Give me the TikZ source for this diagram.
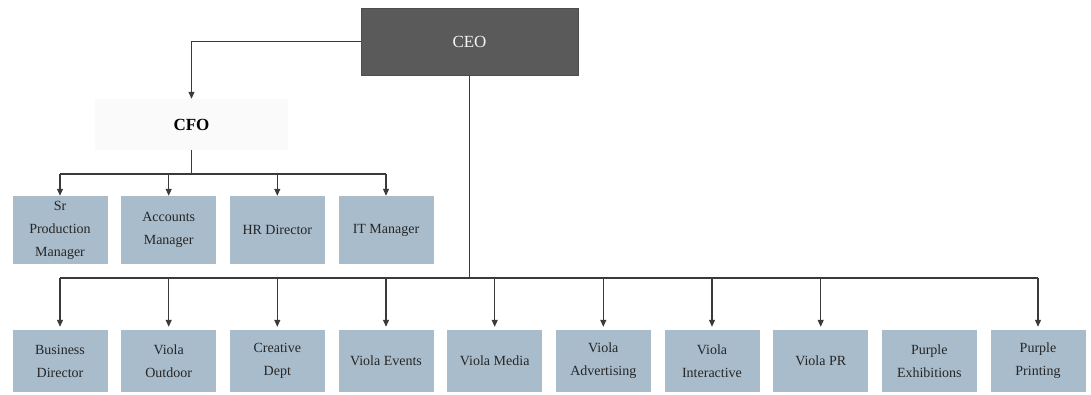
\documentclass[tikz,border=0pt]{standalone}
\usepackage{fontspec}
\setmainfont{Liberation Serif}
\usetikzlibrary{arrows.meta}
\definecolor{unitblue}{HTML}{A9BCCB}
\definecolor{chiefgray}{HTML}{5A5A5A}
\definecolor{linegray}{HTML}{3A3A3A}
\begin{document}
\begin{tikzpicture}[x=1pt,y=-1pt,
  unit/.style={rectangle, fill=unitblue, inner sep=0pt, minimum width=95pt,
    align=center, text=black!85, font=\fontsize{14}{23}\selectfont},
  chief/.style={rectangle, fill=chiefgray, draw=black!70, line width=1pt,
    minimum width=217pt, minimum height=67pt, text=gray!8,
    font=\fontsize{17}{20}\selectfont},
  cfobox/.style={rectangle, fill=gray!4, minimum width=193pt, minimum height=51pt,
    font=\fontsize{17}{20}\selectfont\bfseries},
  link/.style={draw=linegray, line width=1.1pt},
  arr/.style={link, -{Triangle[length=7pt,width=6pt]}}]
  \useasboundingbox (0,0) rectangle (1091,394);

  \node[chief] (ceo) at (469.5,41.5) {CEO};
  \node[cfobox] (cfo) at (191.5,124.5) {CFO};

  % reporting to the CFO
  \node[unit, minimum height=68pt] (prod) at (60,230) {Sr\\Production\\Manager};
  \node[unit, minimum height=68pt] (acc)  at (168.7,230) {Accounts\\Manager};
  \node[unit, minimum height=68pt] (hr)   at (277.3,230) {HR Director};
  \node[unit, minimum height=68pt] (itm)  at (386,230) {IT Manager};

  % business units
  \node[unit, minimum height=62pt] (biz)      at (60,361) {Business\\Director};
  \node[unit, minimum height=62pt] (outdoor)  at (168.7,361) {Viola\\Outdoor};
  \node[unit, minimum height=62pt] (creative) at (277.3,361) {Creative\\Dept};
  \node[unit, minimum height=62pt] (events)   at (386,361) {Viola Events};
  \node[unit, minimum height=62pt] (media)    at (494.7,361) {Viola Media};
  \node[unit, minimum height=62pt] (advert)   at (603.3,361) {Viola\\Advertising};
  \node[unit, minimum height=62pt] (interact) at (712,361) {Viola\\Interactive};
  \node[unit, minimum height=62pt] (pr)       at (820.7,361) {Viola PR};
  \node[unit, minimum height=62pt] (exhib)    at (929.3,361) {Purple\\Exhibitions};
  \node[unit, minimum height=62pt] (printing) at (1038,361) {Purple\\Printing};

  \draw[arr] (ceo.west) -| (cfo.north);

  \coordinate (cfobus) at (191.5,174);
  \draw[link] (cfo.south) -- (cfobus);
  \draw[link] (prod.north |- cfobus) -- (itm.north |- cfobus);
  \foreach \n in {prod,acc,hr,itm}
    \draw[arr] (\n.north |- cfobus) -- (\n.north);

  \coordinate (ceobus) at (469.5,278);
  \draw[link] (ceo.south) -- (ceobus);
  \draw[link] (biz.north |- ceobus) -- (printing.north |- ceobus);
  \foreach \n in {biz,outdoor,creative,events,media,advert,interact,pr,printing}
    \draw[arr, shorten >=3pt] (\n.north |- ceobus) -- (\n.north);
\end{tikzpicture}
\end{document}
